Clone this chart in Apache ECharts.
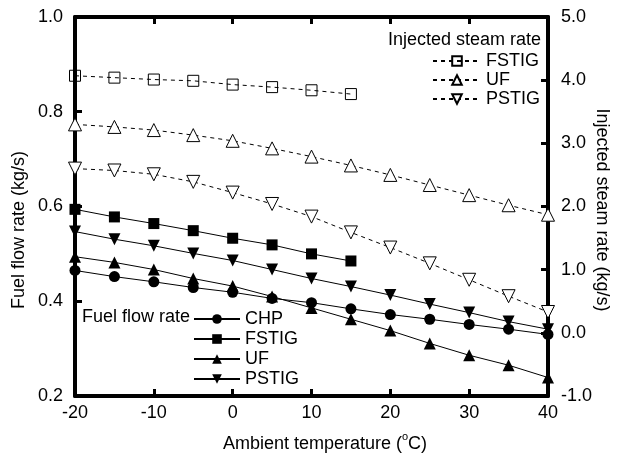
<!DOCTYPE html>
<html>
<head>
<meta charset="utf-8">
<script src="https://cdn.jsdelivr.net/npm/echarts@6/dist/echarts.min.js"></script>
<style>html,body{margin:0;padding:0;background:#fff}#c{width:624px;height:460px}</style>
</head>
<body>
<div id="c"></div>
<script>
var temps = [-20, -15, -10, -5, 0, 5, 10, 15, 20, 25, 30, 35, 40];
var fuelCHP   = [0.465, 0.452, 0.441, 0.429, 0.419, 0.406, 0.397, 0.384, 0.372, 0.362, 0.351, 0.341, 0.330];
var fuelFSTIG = [0.594, 0.578, 0.564, 0.549, 0.533, 0.519, 0.500, 0.485];
var fuelUF    = [0.494, 0.482, 0.467, 0.448, 0.432, 0.410, 0.386, 0.362, 0.338, 0.311, 0.286, 0.265, 0.239];
var fuelPSTIG = [0.547, 0.531, 0.517, 0.501, 0.486, 0.467, 0.448, 0.431, 0.413, 0.394, 0.376, 0.357, 0.341];
var steamFSTIG = [4.07, 4.04, 4.01, 3.99, 3.93, 3.89, 3.84, 3.78];
var steamUF    = [3.30, 3.26, 3.21, 3.13, 3.04, 2.92, 2.79, 2.65, 2.50, 2.34, 2.18, 2.02, 1.87];
var steamPSTIG = [2.60, 2.57, 2.51, 2.39, 2.22, 2.04, 1.84, 1.59, 1.35, 1.10, 0.84, 0.58, 0.33];

function pairs(vals) { return vals.map(function (v, i) { return [temps[i], v]; }); }

var FONT = 'Liberation Sans, Arial, sans-serif';
var FS = 18;
var chart = echarts.init(document.getElementById('c'), null, {renderer: 'canvas'});

function fuelSeries(name, data, symbol, size) {
  return {
    name: name, type: 'line', xAxisIndex: 0, yAxisIndex: 0, data: pairs(data),
    symbol: symbol, symbolSize: size,
    lineStyle: {color: '#000', width: 1},
    itemStyle: {color: '#000', borderColor: '#000', borderWidth: 0},
    z: 5
  };
}
function steamSeries(name, data, symbol, size, fill) {
  return {
    name: name + ' ', type: 'line', xAxisIndex: 0, yAxisIndex: 1, data: pairs(data),
    symbol: symbol, symbolSize: size,
    lineStyle: {color: '#000', width: 1, type: [4, 4]},
    itemStyle: {color: fill, borderColor: '#000', borderWidth: 1},
    z: 4
  };
}
var axisLine = {show: true, onZero: false, lineStyle: {color: '#000', width: 4}};
var axisTick = {show: true, inside: true, length: 7, lineStyle: {color: '#000', width: 3}};
function txt(x, y, rot, text, extra) {
  var style = {text: text, fontSize: FS, fontFamily: FONT, fill: '#000',
    align: 'center', verticalAlign: 'middle', textAlign: 'center', textVerticalAlign: 'middle'};
  if (extra) { for (var k in extra) style[k] = extra[k]; }
  return {type: 'text', x: x, y: y, rotation: rot, style: style, z: 10};
}

var option = {
  backgroundColor: '#fff',
  animation: false,
  textStyle: {fontFamily: FONT},
  grid: {left: 75, right: 76, top: 17, bottom: 64},
  graphic: [
    {type: 'text', left: 82, top: 308, style: {text: 'Fuel flow rate', fontSize: FS, fontFamily: FONT, fill: '#000'}},
    {type: 'text', right: 83, top: 31, style: {text: 'Injected steam rate', fontSize: FS, fontFamily: FONT, fill: '#000', textAlign: 'right'}},
    txt(19, 230, Math.PI / 2, 'Fuel flow rate (kg/s)'),
    txt(602, 210, -Math.PI / 2, 'Injected steam rate (kg/s)'),
    txt(325, 444, 0, 'Ambient temperature ({sup|o}C)', {
      rich: {sup: {fontSize: 11, fontFamily: FONT, fill: '#000', color: '#000', padding: [0, 0, 14, 0]}}
    })
  ],
  legend: [
    {
      data: ['CHP', 'FSTIG', 'UF', 'PSTIG'],
      orient: 'vertical', left: 193, top: 310, padding: 0,
      itemWidth: 46, itemHeight: 12, itemGap: 2,
      textStyle: {fontSize: FS, fontFamily: FONT, color: '#000'},
      selectedMode: false
    },
    {
      data: ['FSTIG ', 'UF ', 'PSTIG '],
      orient: 'vertical', left: 432, top: 52, padding: 0,
      itemWidth: 48, itemHeight: 12, itemGap: 1,
      textStyle: {fontSize: FS, fontFamily: FONT, color: '#000'},
      selectedMode: false
    }
  ],
  xAxis: [
    {
      type: 'value', min: -20, max: 40, interval: 10, position: 'bottom',
      axisLine: axisLine, axisTick: axisTick,
      axisLabel: {fontSize: FS, fontFamily: FONT, color: '#000', margin: 8},
      splitLine: {show: false}
    },
    {
      type: 'value', min: -20, max: 40, interval: 10, position: 'top',
      axisLine: axisLine, axisTick: axisTick,
      axisLabel: {show: false},
      splitLine: {show: false}
    }
  ],
  yAxis: [
    {
      type: 'value', min: 0.2, max: 1.0, interval: 0.2, position: 'left',
      axisLine: axisLine, axisTick: axisTick,
      axisLabel: {fontSize: FS, fontFamily: FONT, color: '#000', margin: 12,
        formatter: function (v) { return v.toFixed(1); }},
      splitLine: {show: false}
    },
    {
      type: 'value', min: -1, max: 5, interval: 1, position: 'right',
      axisLine: axisLine, axisTick: axisTick,
      axisLabel: {fontSize: FS, fontFamily: FONT, color: '#000', margin: 13,
        formatter: function (v) { return v.toFixed(1); }},
      splitLine: {show: false}
    }
  ],
  series: [
    fuelSeries('CHP', fuelCHP, 'circle', 11),
    fuelSeries('FSTIG', fuelFSTIG, 'rect', 11),
    fuelSeries('UF', fuelUF, 'triangle', 12),
    fuelSeries('PSTIG', fuelPSTIG, 'path://M0,0 L10,0 L5,8.66 Z', 12),
    steamSeries('FSTIG', steamFSTIG, 'rect', 11, 'rgba(255,255,255,0)'),
    steamSeries('UF', steamUF, 'triangle', 13, '#fff'),
    steamSeries('PSTIG', steamPSTIG, 'path://M0,0 L10,0 L5,8.66 Z', 13, '#fff')
  ]
};
chart.setOption(option);
</script>
</body>
</html>
